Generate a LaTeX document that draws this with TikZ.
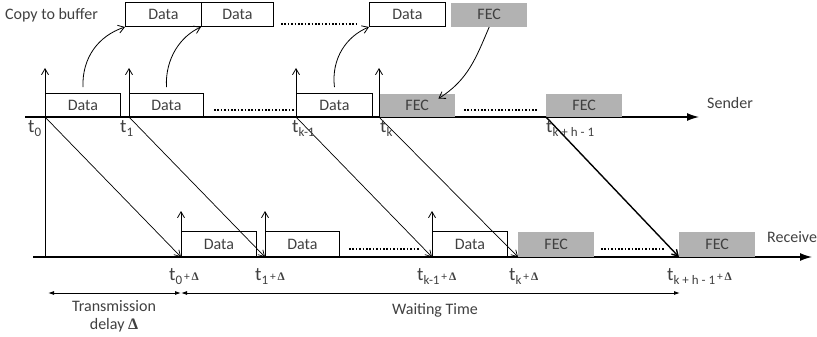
\documentclass[tikz,border=0pt]{standalone}
\usepackage{fontspec}
\setmainfont{Carlito}
\newfontfamily\deltafont{Liberation Serif}
\usetikzlibrary{arrows.meta}

% bold Delta
\newcommand\bdelta{{\deltafont\bfseries Δ}}
% time label: large t with a subscript
\newcommand\tlab[1]{{\fontsize{19}{19}\selectfont t}\raisebox{-4.5pt}{\fontsize{13}{13}\selectfont #1}}
% "+ Delta" suffix of the receive times
\newcommand\pdel{{\fontsize{11.5}{11.5}\selectfont\,+\,\bdelta}}

\begin{document}
\begin{tikzpicture}[x=1pt,y=-1pt,
  font=\fontsize{16}{18}\selectfont, text=black!75,
  pkt/.style={draw=black, line width=0.9pt, inner sep=0, anchor=south west,
              minimum height=23pt},
  fec/.style={fill=black!30, inner sep=0, anchor=south west, minimum height=23pt},
  axis/.style={line width=1.3pt, -{Latex[length=12pt,width=8pt]}},
  mark up/.style={line width=0.8pt, -{Straight Barb[length=6pt,width=7pt]}},
  diag/.style={line width=0.7pt, -{Straight Barb[length=6pt,width=7pt]}},
  copyarr/.style={line width=0.8pt, -{Straight Barb[length=6pt,width=8pt]}},
  dots/.style={line width=1.6pt, dash pattern=on 1.6pt off 1.8pt},
  span/.style={line width=0.9pt, {Latex[length=6pt,width=4pt]}-{Latex[length=6pt,width=4pt]}},
  lbl/.style={inner sep=0, anchor=base west},
]
\useasboundingbox (0,0) rectangle (817,337);

% ---- time axes ----
\coordinate (sstart) at (25,117);
\coordinate (send) at (699,117);
\coordinate (rstart) at (33,257);
\coordinate (rend) at (812,257);
\draw[axis] (sstart) -- (send);
\draw[axis] (rstart) -- (rend);
\node[anchor=west, inner sep=0] (sender) at (707,103) {Sender};
\node[anchor=west, inner sep=0] (receive) at (767,237) {Receive};

% ---- sending instants ----
\coordinate (ts0) at (45,117);
\coordinate (ts1) at (129,117);
\coordinate (tsk1) at (296,117);
\coordinate (tsk) at (379,117);
\coordinate (tskh) at (546,117);
% ---- receiving instants ----
\coordinate (tr0) at (181,257);
\coordinate (tr1) at (265,257);
\coordinate (trk1) at (432,257);
\coordinate (trk) at (518,257);
\coordinate (trkh) at (679,257);

% ---- copy buffer ----
\node[anchor=west, inner sep=0] (copylbl) at (5,15) {Copy to buffer};
\node[pkt, minimum height=24pt, minimum width=76pt] (b1) at (125,27) {Data};
\node[pkt, minimum height=24pt, minimum width=72pt] (b2) at (201,27) {Data};
\node[pkt, minimum height=24pt, minimum width=76pt] (b3) at (369,27) {Data};
\node[fec, minimum height=24pt, minimum width=76pt] (bf) at (451,27) {FEC};
\draw[dots] (281,24) -- (359,24);

% ---- sender packets ----
\node[pkt, minimum width=75pt] (s1) at (45,117) {Data};
\node[pkt, minimum width=74pt] (s2) at (129,117) {Data};
\node[pkt, minimum width=76pt] (s3) at (296,117) {Data};
\node[fec, minimum width=76pt] (sf1) at (379,117) {FEC};
\node[fec, minimum width=76pt] (sf2) at (546,117) {FEC};
\draw[dots] (214,110) -- (297,110);
\draw[dots] (464,110) -- (537,110);

% ---- receiver packets ----
\node[pkt, minimum height=25pt, minimum width=75pt] (r1) at (181,257) {Data};
\node[pkt, minimum height=25pt, minimum width=74pt] (r2) at (265,257) {Data};
\node[pkt, minimum height=25pt, minimum width=75pt] (r3) at (432,257) {Data};
\node[fec, minimum height=25pt, minimum width=76pt] (rf1) at (518,257) {FEC};
\node[fec, minimum height=25pt, minimum width=76pt] (rf2) at (679,257) {FEC};
\draw[dots] (349,249) -- (420,249);
\draw[dots] (601,249) -- (664,249);

% ---- copies into the buffer and FEC back to the sender ----
\draw[copyarr] (s1.north) ++(0,-6) .. controls (82,58) and (98,36) .. (b1.south west);
\draw[copyarr] (s2.north) ++(0,-6) .. controls (165,58) and (181,36) .. (b2.south west);
\draw[copyarr] (s3.north) ++(0,-6) .. controls (331,58) and (347,36) .. (b3.south west);
\draw[copyarr] (bf.south) .. controls (476,58) and (468,80) .. ([xshift=-17pt,yshift=-5pt]sf1.north east);

% ---- markers at the instants ----
\draw[line width=0.9pt] (ts0) -- (ts0 |- rstart);
\foreach \p in {ts0,ts1,tsk1,tsk}
  \draw[mark up] (\p) -- ++(0,-49);
\foreach \p in {tr0,tr1,trk1}
  \draw[mark up] (\p) -- ++(0,-46);

% ---- transmissions ----
\draw[diag] (ts0) -- (tr0);
\draw[diag] (ts1) -- (tr1);
\draw[diag] (tsk1) -- (trk1);
\draw[diag] (tsk) -- (trk);
\draw[diag, line width=1.4pt] (tskh) -- (trkh);

% ---- time labels ----
\node[lbl] (l0) at (28,132) {\tlab{0}};
\node[lbl] (l1) at (120,132) {\tlab{1}};
\node[lbl] (lk1) at (292,132) {\tlab{k-1}};
\node[lbl] (lk) at (380,132) {\tlab{k}};
\node[lbl] (lkh) at (546,132) {\tlab{k + h - 1}};

\node[lbl] (m0) at (169,280) {\tlab{0}\pdel};
\node[lbl] (m1) at (255,280) {\tlab{1}\pdel};
\node[lbl] (mk1) at (417,280) {\tlab{k-1}\pdel};
\node[lbl] (mk) at (509,280) {\tlab{k}\pdel};
\node[lbl] (mkh) at (667,280) {\tlab{k + h - 1}\pdel};

% ---- delay and waiting spans ----
\coordinate (d0) at (48,293);
\coordinate (d1) at (181,293);
\coordinate (d2) at (680,293);
\draw[span] (d0) -- (d1);
\draw[span] (d1) -- (d2);
\node[align=center, inner sep=0] (tdl) at (114,316)
  {Transmission\\delay \bdelta};
\node[inner sep=0] (wt) at (435,310) {Waiting Time};
\end{tikzpicture}
\end{document}
